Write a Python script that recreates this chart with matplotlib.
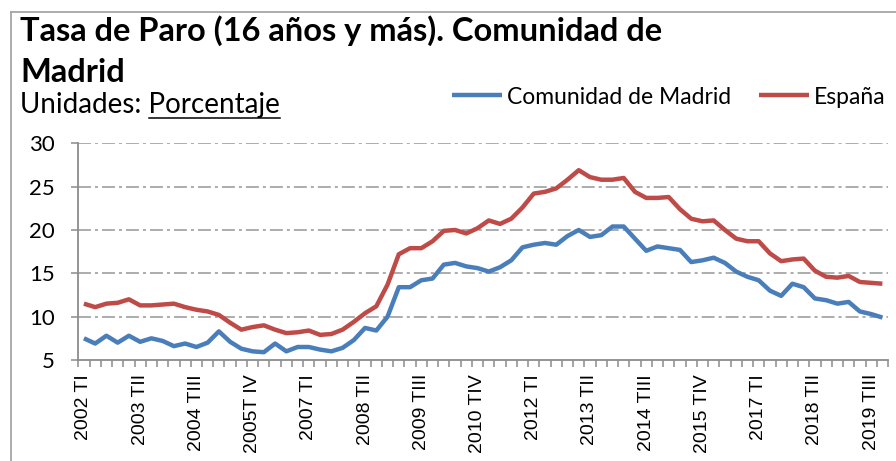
import matplotlib
matplotlib.use("Agg")
import matplotlib.pyplot as plt
from matplotlib.lines import Line2D

W, H = 896, 461

quarters = []
for y in range(2002, 2020):
    for q in ["TI", "TII", "TIII", "TIV"]:
        quarters.append(f"{y} {q}")

tick_labels = ["2002 TI", "2003 TII", "2004 TIII", "2005T IV", "2007 TI", "2008 TII",
               "2009 TIII", "2010 TIV", "2012 TI", "2013 TII", "2014 TIII", "2015 TIV",
               "2017 TI", "2018 TII", "2019 TIII"]

madrid = [7.5, 6.9, 7.8, 7.0, 7.8, 7.1, 7.5, 7.2, 6.6, 6.9, 6.5, 7.0,
          8.3, 7.1, 6.3, 6.0, 5.9, 6.9, 6.0, 6.5, 6.5, 6.2, 6.0, 6.4,
          7.3, 8.7, 8.4, 10.0, 13.4, 13.4, 14.2, 14.4, 16.0, 16.2, 15.8, 15.6,
          15.2, 15.7, 16.5, 18.0, 18.3, 18.5, 18.3, 19.3, 20.0, 19.2, 19.4, 20.4,
          20.4, 19.0, 17.6, 18.1, 17.9, 17.7, 16.3, 16.5, 16.8, 16.2, 15.2, 14.6,
          14.2, 13.0, 12.4, 13.8, 13.4, 12.1, 11.9, 11.5, 11.7, 10.6, 10.3, 9.9]

espana = [11.5, 11.1, 11.5, 11.6, 12.0, 11.3, 11.3, 11.4, 11.5, 11.1, 10.8, 10.6,
          10.2, 9.3, 8.5, 8.8, 9.0, 8.5, 8.1, 8.2, 8.4, 7.9, 8.0, 8.5,
          9.4, 10.4, 11.2, 13.7, 17.2, 17.9, 17.9, 18.7, 19.9, 20.0, 19.6, 20.2,
          21.1, 20.7, 21.3, 22.6, 24.2, 24.4, 24.8, 25.8, 26.9, 26.1, 25.8, 25.8,
          26.0, 24.4, 23.7, 23.7, 23.8, 22.4, 21.3, 21.0, 21.1, 20.0, 19.0, 18.7,
          18.7, 17.3, 16.4, 16.6, 16.7, 15.3, 14.6, 14.5, 14.7, 14.0, 13.9, 13.8]

blue = "#4A7EBB"
red = "#BE4B48"
grey = "#8C8C8C"

plt.rcParams["font.family"] = ["Lato", "DejaVu Sans"]

fig = plt.figure(figsize=(W / 100, H / 100), dpi=100)

def fx(px):
    return px / W

def fy(py):
    return 1 - py / H

ax = fig.add_axes([fx(78.3), fy(360), fx(888) - fx(78.3), fy(143.3) - fy(360)])

x = list(range(len(quarters)))
l1, = ax.plot(x, madrid, color=blue, lw=3.2, solid_joinstyle="round", solid_capstyle="butt")
l2, = ax.plot(x, espana, color=red, lw=3.2, solid_joinstyle="round", solid_capstyle="butt")

ax.set_xlim(-0.5, len(quarters) - 0.5)
ax.set_ylim(5, 30)
ax.set_yticks([5, 10, 15, 20, 25, 30])

for v in [10, 15, 20, 25, 30]:
    ax.axhline(v, color="#969696", lw=1.1, linestyle=(0, (8.5, 2.6, 2.0, 2.6)), zorder=0)

major_pos = [quarters.index(t.replace("2005T IV", "2005 TIV")) for t in tick_labels]
ax.set_xticks(major_pos)
ax.set_xticklabels(tick_labels, rotation=90, fontsize=14, family=["Liberation Sans"])
ax.set_xticks([i - 0.5 for i in range(len(quarters) + 1)], minor=True)
ax.tick_params(axis="x", which="major", length=0, pad=10)
ax.tick_params(axis="x", which="minor", length=5, width=1.1, color=grey, direction="out")
ax.tick_params(axis="y", length=5, width=1.1, color=grey, direction="out", labelsize=16, pad=12)

for s in ["top", "right"]:
    ax.spines[s].set_visible(False)
for s in ["left", "bottom"]:
    ax.spines[s].set_color(grey)
    ax.spines[s].set_linewidth(1.3)

# outer frame
fig.add_artist(Line2D([fx(10.5), fx(10.5)], [fy(12), 0], color="#A6A6A6", lw=1.3))
fig.add_artist(Line2D([fx(10.5), 1], [fy(12), fy(12)], color="#A6A6A6", lw=1.3))

# titles
fig.text(fx(20), fy(41), "Tasa de Paro (16 años y más). Comunidad de", fontsize=23.5,
         fontweight="bold", va="baseline", ha="left")
fig.text(fx(20), fy(82), "Madrid", fontsize=23.5, fontweight="bold", va="baseline", ha="left")

sub_full = fig.text(fx(20), fy(113), "Unidades: Porcentaje", fontsize=20, va="baseline", ha="left")
fig.canvas.draw()
r = fig.canvas.get_renderer()
ext_full = sub_full.get_window_extent(r)
tmp = fig.text(0, 0, "Porcentaje", fontsize=20, va="baseline", ha="left")
ext_p = tmp.get_window_extent(r)
tmp.remove()
x1 = ext_full.x1
x0 = x1 - ext_p.width
fig.add_artist(Line2D([x0 / W, x1 / W], [fy(118), fy(118)], color="black", lw=1.1))

fig.legend([l1, l2], ["Comunidad de Madrid", "España"], loc="center left",
           bbox_to_anchor=(fx(452), fy(97)), ncol=2, frameon=False, fontsize=16.5,
           handlelength=2.2, handletextpad=0.2, columnspacing=1.2, borderaxespad=0,
           borderpad=0)

fig.savefig("out.png", dpi=100)
